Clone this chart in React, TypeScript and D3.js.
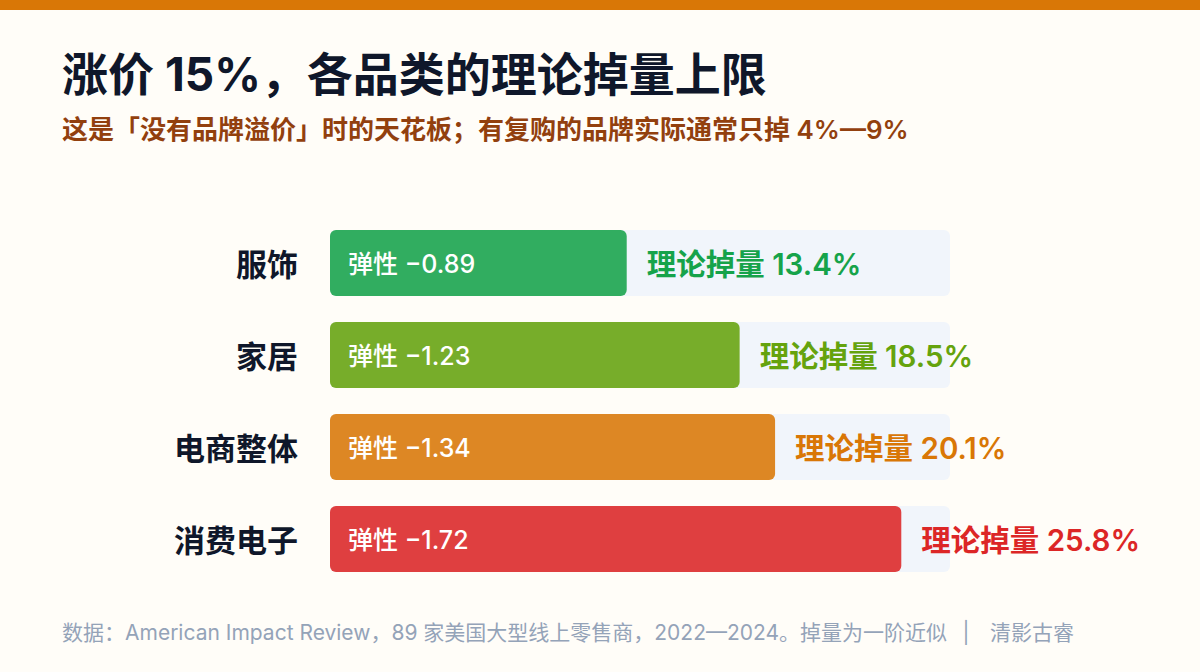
import { useEffect } from "react";
import * as d3 from "d3";

const categories = ["服饰", "家居", "电商整体", "消费电子"];
const elasticity = [-0.89, -1.23, -1.34, -1.72];
const dropPct = [13.4, 18.5, 20.1, 25.8];
const colors = ["#16a34a", "#65a30d", "#d97706", "#dc2626"];

const title = "涨价 15%，各品类的理论掉量上限";
const subtitle = "这是「没有品牌溢价」时的天花板；有复购的品牌实际通常只掉 4%—9%";
const source =
  "数据：American Impact Review，89 家美国大型线上零售商，2022—2024。掉量为一阶近似";
const credit = "清影古睿";

const W = 1200;
const H = 672;
const FONT = "Inter, 'Noto Sans CJK SC', sans-serif";

export default function App() {
  useEffect(() => {
    document.body.style.margin = "0";
  }, []);

  const x = d3.scaleLinear().domain([0, 28]).range([330, 950]);
  const y = d3
    .scaleBand<string>()
    .domain(categories)
    .range([230, 572])
    .paddingInner(26 / 92)
    .paddingOuter(0);
  const fmt = (v: number) => "弹性 \u2212" + Math.abs(v).toFixed(2);

  return (
    <svg width={W} height={H} style={{ display: "block", fontFamily: FONT }}>
      <rect width={W} height={H} fill="#fffdf8" />
      <rect width={W} height={10} fill="#d97706" />

      <text x={62} y={91} fontSize={46} fontWeight={700} fill="#0f172a">
        {title}
      </text>
      <text x={62} y={139} fontSize={26} fontWeight={600} fill="#92400e">
        {subtitle}
      </text>

      {categories.map((c, i) => {
        const y0 = y(c)!;
        const bh = y.bandwidth();
        const cy = y0 + bh / 2 + 1;
        const xe = x(dropPct[i]);
        return (
          <g key={c}>
            <text
              x={298}
              y={cy}
              textAnchor="end"
              dominantBaseline="central"
              fontSize={31}
              fontWeight={700}
              fill="#0f172a"
            >
              {c}
            </text>
            <rect
              x={x(0)}
              y={y0}
              width={x(28) - x(0)}
              height={bh}
              rx={6}
              fill="#f1f5fb"
            />
            <rect
              x={x(0)}
              y={y0}
              width={xe - x(0)}
              height={bh}
              rx={6}
              fill={colors[i]}
              fillOpacity={0.88}
            />
            <text
              x={x(0) + 18}
              y={cy}
              dominantBaseline="central"
              fontSize={25}
              fontWeight={500}
              fill="#ffffff"
            >
              {fmt(elasticity[i])}
            </text>
            <text
              x={xe + 20}
              y={cy}
              dominantBaseline="central"
              fontSize={29.5}
              fontWeight={600}
              fill={colors[i]}
            >
              {"理论掉量 " + dropPct[i].toFixed(1) + "%"}
            </text>
          </g>
        );
      })}

      <text x={62} y={640} fontSize={21} fill="#94a3b8">
        {source}
      </text>
      <text x={966} y={640} fontSize={21} fill="#94a3b8" textAnchor="middle">
        |
      </text>
      <text x={990} y={640} fontSize={21} fill="#94a3b8">
        {credit}
      </text>
    </svg>
  );
}
